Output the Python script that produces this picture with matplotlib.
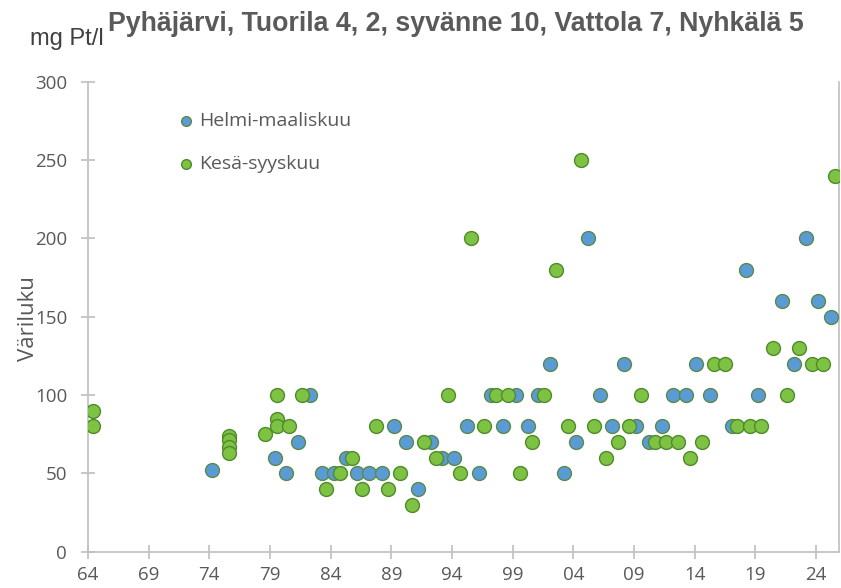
import matplotlib
matplotlib.use("Agg")
import matplotlib.pyplot as plt

# Helmi-maaliskuu (blue) observations: year position and colour value
winter_year = [1974.2, 1979.4, 1980.3, 1981.3, 1982.3, 1983.3, 1984.3, 1985.3,
               1986.2, 1987.2, 1988.2, 1989.2, 1990.2, 1991.2, 1992.3, 1993.2,
               1994.2, 1995.2, 1996.2, 1997.2, 1998.2, 1999.3, 2000.3, 2001.1,
               2002.1, 2003.2, 2004.2, 2005.2, 2006.2, 2007.2, 2008.2, 2009.2,
               2010.2, 2011.3, 2012.2, 2013.3, 2014.1, 2015.3, 2017.1, 2018.2,
               2019.2, 2021.2, 2022.2, 2023.2, 2024.2, 2025.2]
winter_val = [52, 60, 50, 70, 100, 50, 50, 60,
              50, 50, 50, 80, 70, 40, 70, 60,
              60, 80, 50, 100, 80, 100, 80, 100,
              120, 50, 70, 200, 100, 80, 120, 80,
              70, 80, 100, 100, 120, 100, 80, 180,
              100, 160, 120, 200, 160, 150]

# Kesä-syyskuu (green) observations
summer_year = [1964.4, 1964.4, 1975.6, 1975.6, 1975.6, 1975.6, 1978.6, 1979.6,
               1979.6, 1979.6, 1980.6, 1981.6, 1983.6, 1984.8, 1985.8, 1986.6,
               1987.7, 1988.7, 1989.7, 1990.7, 1991.7, 1992.7, 1993.7, 1994.7,
               1995.6, 1996.6, 1997.6, 1998.6, 1999.6, 2000.6, 2001.6, 2002.6,
               2003.6, 2004.6, 2005.7, 2006.7, 2007.7, 2008.6, 2009.6, 2010.7,
               2011.6, 2012.6, 2013.6, 2014.6, 2015.6, 2016.5, 2017.5, 2018.6,
               2019.5, 2020.5, 2021.6, 2022.6, 2023.7, 2024.6, 2025.6]
summer_val = [90, 80, 74, 71, 67, 63, 75, 100,
              85, 80, 80, 100, 40, 50, 60, 40,
              80, 40, 50, 30, 70, 60, 100, 50,
              200, 80, 100, 100, 50, 70, 100, 180,
              80, 250, 80, 60, 70, 80, 100, 70,
              70, 70, 60, 70, 120, 120, 80, 80,
              80, 130, 100, 130, 120, 120, 240]

xticks = list(range(1964, 2025, 5))
xticklabels = [f"{y % 100:02d}" for y in xticks]
yticks = list(range(0, 301, 50))

gray = "#595959"
axis_gray = "#bfbfbf"
tick_font = ["Open Sans", "DejaVu Sans"]

fig = plt.figure(figsize=(8.41, 5.88), dpi=100)
ax = fig.add_axes([88 / 841, 1 - 551.7 / 588, 751 / 841, 470 / 588])

ax.scatter(winter_year, winter_val, s=100, c="#5b9bd5", edgecolors="#5a8a4a",
           linewidths=1.0, label="Helmi-maaliskuu", zorder=3)
ax.scatter(summer_year, summer_val, s=100, c="#7dc242", edgecolors="#4f8a2b",
           linewidths=1.0, label="Kesä-syyskuu", zorder=3)

ax.set_xlim(1964, 2025.9)
ax.set_ylim(0, 300)
ax.set_xticks(xticks)
ax.set_xticklabels(xticklabels)
ax.set_yticks(yticks)

ax.spines["top"].set_visible(False)
for side in ["left", "bottom", "right"]:
    ax.spines[side].set_color(axis_gray)
    ax.spines[side].set_linewidth(1.2)

ax.tick_params(axis="both", direction="inout", length=10, width=1.2,
               color=axis_gray, labelcolor=gray, labelsize=13.5)
ax.tick_params(axis="x", pad=5)
ax.tick_params(axis="y", pad=10)
for lab in ax.get_xticklabels() + ax.get_yticklabels():
    lab.set_family(tick_font)

leg = ax.legend(loc="upper left", bbox_to_anchor=(0.105, 0.957), frameon=False,
                markerscale=0.7, handletextpad=0.15, handlelength=1.0,
                labelspacing=1.3, borderpad=0,
                prop={"family": tick_font, "size": 14})
for t in leg.get_texts():
    t.set_color(gray)

fig.text(108 / 841, 1 - 31 / 588, "Pyhäjärvi, Tuorila 4, 2, syvänne 10, Vattola 7, Nyhkälä 5",
         family=["Liberation Sans"], fontsize=19.3, fontweight="bold",
         color="#5a5a5a", ha="left", va="baseline")
fig.text(30 / 841, 1 - 45 / 588, "mg Pt/l", family=["Liberation Sans"],
         fontsize=17, color="#404040", ha="left", va="baseline")
fig.text(28 / 841, 1 - 319 / 588, "Väriluku", family=tick_font, fontsize=16,
         color=gray, rotation=90, ha="center", va="center")

fig.savefig("out.png", dpi=100)
